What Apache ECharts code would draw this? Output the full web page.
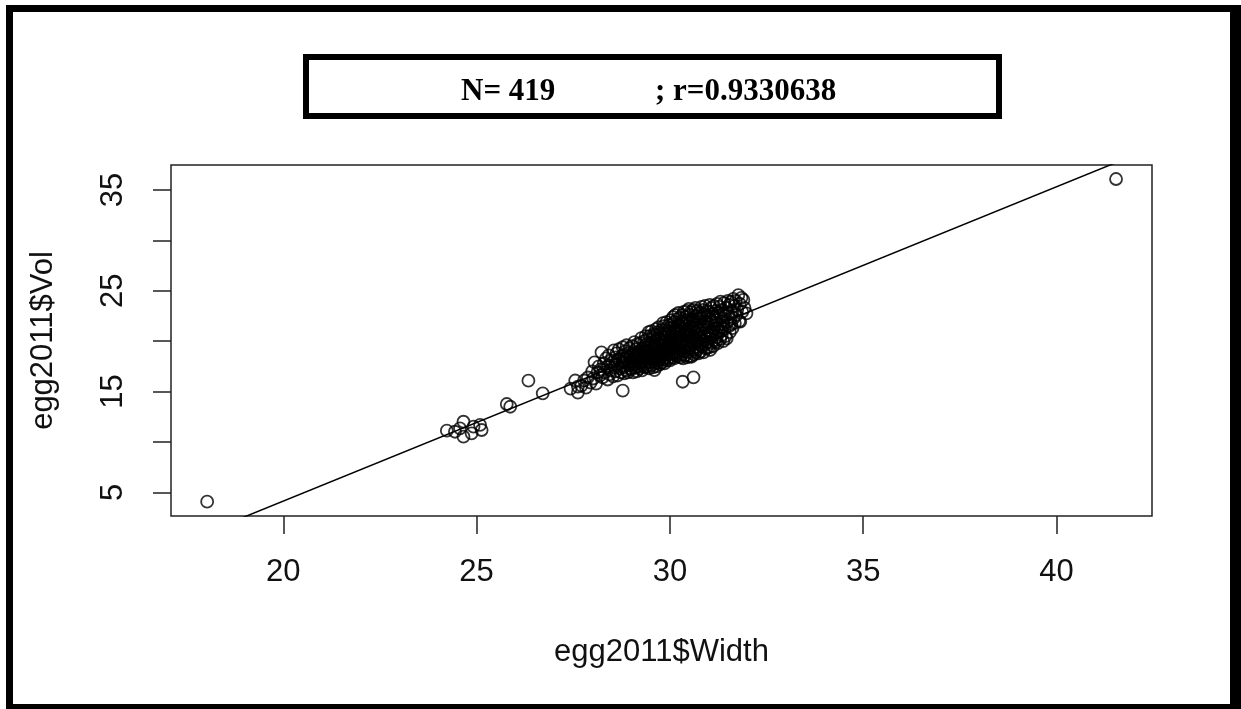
<!DOCTYPE html>
<html>
<head>
<meta charset="utf-8">
<script src="https://cdn.jsdelivr.net/npm/echarts@6/dist/echarts.min.js"></script>
<style>
  html, body { margin: 0; padding: 0; background: #fff; }
  #chart { width: 1241px; height: 709px; }
</style>
</head>
<body>
<div id="chart"></div>
<script>
// Egg width vs egg volume, 2011 season: [Width, Vol]
const eggOutliers = [
  [18.03, 4.08], [41.54, 36.09],
  [24.23, 11.12], [24.44, 11.02], [24.66, 12.01], [24.66, 10.53], [24.92, 11.52],
  [24.87, 10.86], [25.13, 11.19], [25.09, 11.69], [24.57, 11.36],
  [25.78, 13.77], [25.87, 13.50],
  [26.34, 16.08], [26.71, 14.83],
  [27.43, 15.30], [27.55, 16.10], [27.62, 15.50],
  [28.78, 15.09], [30.33, 15.98], [30.61, 16.42]
];

const eggMain = [
  [27.62,14.9],[27.71,15.6],[27.78,16.1],
  [27.83,15.4],[27.88,16.4],[27.95,15.9],[27.99,17.0],
  [28.02,16.3],[28.05,17.9],[28.09,15.8],[28.13,16.9],[28.16,17.5],[28.19,16.6],
  [28.21,17.2],[28.23,18.9],[28.26,16.4],[28.29,17.8],[28.31,16.9],[28.35,18.3],[28.37,17.4],[28.39,16.2],
  [28.41,17.6],[28.42,18.6],[28.44,16.7],[28.46,17.1],[28.48,18.1],[28.51,17.9],[28.53,16.5],[28.55,19.1],[28.57,17.4],[28.59,18.4],
  [28.60,17.0],[28.62,18.8],[28.63,17.7],[28.65,16.6],[28.67,18.2],[28.68,19.2],[28.70,17.3],[28.72,17.9],[28.73,16.9],[28.75,18.5],[28.77,17.6],[28.78,19.4],[28.79,18.0],
  [28.80,17.4],[28.81,18.6],[28.82,16.8],[28.84,19.0],[28.85,17.9],[28.86,18.3],[28.87,17.1],[28.88,19.6],[28.90,18.1],[28.91,16.9],[28.92,18.8],[28.94,17.6],[28.95,19.3],[28.96,18.4],[28.98,17.3],[28.99,18.0],
  [29.00,18.6],[29.01,17.2],[29.02,19.5],[29.03,18.0],[29.05,16.9],[29.06,18.9],[29.07,17.7],[29.08,19.9],[29.10,18.3],[29.11,17.4],[29.12,19.2],[29.13,18.6],[29.14,17.0],[29.15,18.1],[29.16,19.7],[29.17,17.8],[29.18,18.8],[29.19,18.4],[29.19,17.5],[29.20,19.0],
  [29.21,18.2],[29.22,17.3],[29.23,19.8],[29.24,18.7],[29.25,17.9],[29.26,20.3],[29.27,18.5],[29.28,17.1],[29.29,19.3],[29.30,18.0],[29.31,19.0],[29.32,17.6],[29.33,20.0],[29.34,18.9],[29.35,17.4],[29.35,19.5],[29.36,18.3],[29.37,20.5],[29.38,18.6],[29.38,17.8],[29.39,19.1],[29.39,18.4],[29.40,19.7],
  [29.41,18.1],[29.41,20.2],[29.42,17.5],[29.43,19.4],[29.44,18.8],[29.45,20.9],[29.46,17.3],[29.46,19.0],[29.47,18.4],[29.48,20.5],[29.49,17.9],[29.50,19.7],[29.51,18.6],[29.52,21.0],[29.52,17.6],[29.53,19.2],[29.54,18.2],[29.55,20.3],[29.56,18.9],[29.56,17.4],[29.57,19.9],[29.58,18.0],[29.58,20.7],[29.59,19.3],[29.60,18.5],[29.60,17.14],
  [29.61,19.6],[29.61,18.3],[29.62,20.6],[29.63,17.8],[29.63,19.1],[29.64,21.2],[29.65,18.7],[29.65,20.0],[29.66,17.5],[29.67,19.4],[29.67,18.1],[29.68,20.9],[29.69,19.0],[29.69,17.9],[29.70,20.3],[29.71,18.5],[29.71,21.4],[29.72,19.7],[29.73,18.2],[29.73,20.1],[29.74,17.7],[29.75,19.2],[29.75,20.7],[29.76,18.8],[29.77,19.9],[29.78,18.4],[29.79,21.1],[29.79,19.5],
  [29.80,17.9],[29.80,20.4],[29.81,19.0],[29.82,21.8],[29.82,18.6],[29.83,20.0],[29.84,18.2],[29.84,21.5],[29.85,19.6],[29.86,17.8],[29.86,20.7],[29.87,19.3],[29.88,18.4],[29.88,21.2],[29.89,20.1],[29.90,18.9],[29.90,19.8],[29.91,21.9],[29.92,18.1],[29.92,20.5],[29.93,19.4],[29.94,18.7],[29.94,21.0],[29.95,20.2],[29.96,18.3],[29.96,19.6],[29.97,21.6],[29.98,19.0],[29.98,20.8],
  [30.00,20.0],[30.00,18.1],[30.01,21.3],[30.02,19.5],[30.02,22.1],[30.03,18.7],[30.04,20.6],[30.04,19.2],[30.05,21.7],[30.06,18.4],[30.06,20.3],[30.07,19.8],[30.08,22.4],[30.08,18.9],[30.09,21.0],[30.10,19.6],[30.10,20.9],[30.11,18.3],[30.12,21.9],[30.12,20.1],[30.13,19.3],[30.14,22.6],[30.14,18.8],[30.15,20.7],[30.16,19.9],[30.16,21.4],[30.17,18.6],[30.18,20.4],[30.18,22.2],
  [30.20,21.1],[30.20,18.5],[30.21,20.2],[30.22,22.8],[30.22,19.7],[30.23,21.6],[30.24,18.9],[30.25,20.5],[30.25,22.3],[30.26,19.2],[30.27,21.0],[30.27,18.4],[30.28,20.8],[30.29,22.0],[30.29,19.6],[30.30,21.4],[30.31,18.7],[30.31,20.0],[30.32,22.6],[30.33,19.9],[30.33,21.8],[30.34,18.3],[30.35,20.6],[30.35,19.4],[30.36,22.9],[30.37,21.2],[30.38,19.0],[30.39,21.7],
  [30.40,18.6],[30.40,20.9],[30.41,22.4],[30.42,19.5],[30.42,21.5],[30.43,20.1],[30.44,23.0],[30.44,18.4],[30.45,20.7],[30.46,22.1],[30.46,19.8],[30.47,21.2],[30.48,18.9],[30.48,20.4],[30.49,23.2],[30.50,19.3],[30.50,21.8],[30.51,20.0],[30.52,22.6],[30.52,18.5],[30.53,21.0],[30.54,19.6],[30.54,22.9],[30.55,20.6],[30.56,18.46],[30.56,21.4],[30.57,19.9],[30.58,22.2],[30.59,20.3],
  [30.60,21.7],[30.60,19.1],[30.61,23.1],[30.62,20.5],[30.63,18.7],[30.63,22.0],[30.64,19.8],[30.65,21.3],[30.66,23.3],[30.66,20.2],[30.67,18.9],[30.68,22.5],[30.68,20.9],[30.69,19.4],[30.70,21.6],[30.71,23.0],[30.71,20.0],[30.72,19.2],[30.73,22.2],[30.74,21.0],[30.74,18.8],[30.75,20.6],[30.76,22.8],[30.77,19.6],[30.77,21.9],[30.78,20.3],[30.79,22.4],
  [30.80,19.0],[30.81,21.2],[30.82,23.4],[30.82,20.4],[30.83,22.3],[30.84,19.5],[30.85,21.7],[30.86,23.1],[30.86,20.1],[30.87,18.9],[30.88,22.7],[30.89,20.8],[30.90,21.5],[30.90,19.7],[30.91,23.5],[30.92,20.5],[30.93,22.0],[30.94,19.3],[30.95,21.1],[30.95,23.0],[30.96,20.2],[30.97,22.5],[30.98,19.9],[30.99,21.8],[30.99,20.7],
  [31.00,22.9],[31.01,19.4],[31.02,21.4],[31.03,23.6],[31.04,20.3],[31.04,19.13],[31.05,22.2],[31.06,20.9],[31.07,23.3],[31.08,19.8],[31.09,21.9],[31.10,20.6],[31.11,22.7],[31.12,19.5],[31.13,21.2],[31.14,23.5],[31.15,20.1],[31.16,22.4],[31.17,21.6],[31.18,19.9],[31.19,23.0],[31.19,20.8],
  [31.20,22.1],[31.21,20.4],[31.22,23.7],[31.23,21.3],[31.24,19.8],[31.25,22.8],[31.27,20.9],[31.28,23.4],[31.29,21.7],[31.30,20.2],[31.31,23.92],[31.32,22.4],[31.33,21.0],[31.34,20.6],[31.35,23.1],[31.36,22.0],[31.37,21.4],[31.38,20.0],[31.39,22.7],
  [31.40,23.8],[31.41,21.2],[31.43,22.5],[31.44,20.5],[31.46,23.3],[31.47,20.29],[31.48,21.9],[31.50,24.0],[31.51,22.8],[31.53,21.5],[31.54,23.6],[31.55,20.9],[31.57,22.2],[31.58,23.9],[31.59,21.7],
  [31.61,22.9],[31.62,21.3],[31.64,24.2],[31.65,22.3],[31.67,23.5],[31.68,21.8],[31.70,24.0],[31.72,22.6],[31.74,23.1],[31.77,24.58],[31.79,22.0],
  [31.81,23.7],[31.82,21.94],[31.85,24.3],[31.87,22.9],[31.90,24.1],[31.93,23.3],[31.98,22.77]
];

// Fitted line Vol = a + b * Width
const lmIntercept = -27.04;
const lmSlope = 1.559;

// Axis ticks and labels
const xTicks = [20, 25, 30, 35, 40];
const yTicks = [5, 10, 15, 20, 25, 30, 35];
const yLabels = [5, 15, 25, 35];

const titleN = 'N= 419';
const titleR = '; r=0.9330638';

const xMin = 17.095, xMax = 42.47;
const yMin = 2.66, yMax = 37.48;

const points = eggOutliers.concat(eggMain);
const fitLine = [
  [xMin - 1, lmIntercept + lmSlope * (xMin - 1)],
  [xMax + 1, lmIntercept + lmSlope * (xMax + 1)]
];

const chart = echarts.init(document.getElementById('chart'), null, { renderer: 'canvas' });
const font = 'Liberation Sans, Arial, sans-serif';

chart.setOption({
  animation: false,
  backgroundColor: '#fff',
  grid: {
    left: 171, top: 165, width: 981, height: 351,
    show: true, borderColor: '#222', borderWidth: 1.5, backgroundColor: 'transparent'
  },
  xAxis: {
    type: 'value', min: xMin, max: xMax,
    axisLine: { show: false },
    splitLine: { show: false },
    axisTick: {
      show: true, inside: false, length: 18, customValues: xTicks,
      lineStyle: { color: '#222', width: 1.5 }
    },
    axisLabel: {
      customValues: xTicks, margin: 41, fontSize: 31, fontFamily: font, color: '#111'
    },
    name: 'egg2011$Width', nameLocation: 'middle', nameGap: 121,
    nameTextStyle: { fontSize: 31, fontFamily: font, color: '#111' }
  },
  yAxis: {
    type: 'value', min: yMin, max: yMax,
    axisLine: { show: false },
    splitLine: { show: false },
    axisTick: {
      show: true, inside: false, length: 18, customValues: yTicks,
      lineStyle: { color: '#222', width: 1.5 }
    },
    axisLabel: {
      customValues: yLabels, rotate: 90, margin: 42, fontSize: 31, fontFamily: font, color: '#111'
    },
    name: 'egg2011$Vol', nameLocation: 'middle', nameGap: 112, nameRotate: 90,
    nameTextStyle: { fontSize: 31, fontFamily: font, color: '#111' }
  },
  series: [
    {
      type: 'scatter',
      data: points,
      symbol: 'circle',
      symbolSize: 12,
      itemStyle: { color: 'transparent', borderColor: '#000', borderWidth: 1.8 },
      emphasis: { disabled: true }
    },
    {
      type: 'line',
      data: fitLine,
      showSymbol: false,
      symbol: 'none',
      clip: true,
      lineStyle: { color: '#000', width: 1.5 },
      emphasis: { disabled: true }
    }
  ],
  graphic: [
    { type: 'rect', shape: { x: 6, y: 5, width: 7, height: 704 }, style: { fill: '#000' } },
    { type: 'rect', shape: { x: 6, y: 5, width: 1235, height: 7 }, style: { fill: '#000' } },
    { type: 'rect', shape: { x: 1230, y: 5, width: 11, height: 704 }, style: { fill: '#000' } },
    { type: 'rect', shape: { x: 6, y: 704, width: 1235, height: 5 }, style: { fill: '#000' } },
    {
      type: 'rect', shape: { x: 306, y: 57, width: 693, height: 59 },
      style: { fill: '#fff', stroke: '#000', lineWidth: 6 }
    },
    {
      type: 'text', x: 461, y: 92,
      style: {
        text: titleN, fill: '#000', fontSize: 31, fontWeight: 'bold',
        fontFamily: 'Liberation Serif, Times New Roman, serif',
        textAlign: 'left', textVerticalAlign: 'middle'
      }
    },
    {
      type: 'text', x: 655, y: 92,
      style: {
        text: titleR, fill: '#000', fontSize: 31, fontWeight: 'bold',
        fontFamily: 'Liberation Serif, Times New Roman, serif',
        textAlign: 'left', textVerticalAlign: 'middle'
      }
    }
  ]
});
</script>
</body>
</html>
